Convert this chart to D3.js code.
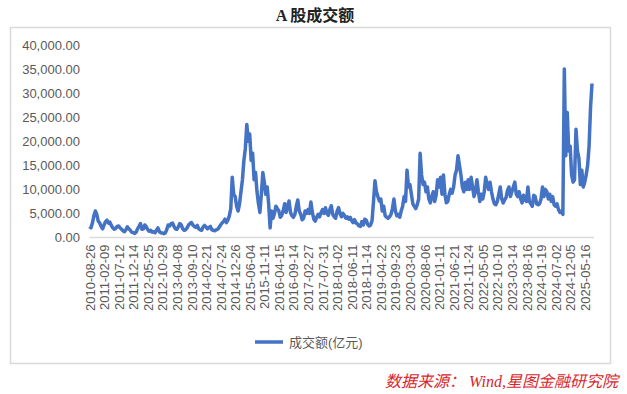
<!DOCTYPE html>
<html>
<head>
<meta charset="utf-8">
<script src="https://cdn.jsdelivr.net/npm/d3@7"></script>
<style>
  html, body { margin: 0; padding: 0; background: #fff; }
  svg { display: block; }
</style>
</head>
<body>
<div id="chart"></div>
<script>
// ---- data ----
const chartTitle = "A 股成交额";
const seriesName = "成交额(亿元)";
const sourceNote = "数据来源：  Wind,星图金融研究院";

const dateLabels = [
  "2010-08-26","2011-02-09","2011-07-12","2011-12-14","2012-05-25","2012-10-29",
  "2013-04-08","2013-09-10","2014-02-21","2014-07-24","2014-12-26","2015-06-04",
  "2015-11-11","2016-04-15","2016-09-14","2017-02-27","2017-07-31","2018-01-02",
  "2018-06-11","2018-11-14","2019-04-22","2019-09-23","2020-03-04","2020-08-06",
  "2021-01-11","2021-06-21","2021-11-24","2022-05-05","2022-10-10","2023-03-14",
  "2023-08-16","2024-01-19","2024-07-02","2024-12-05","2025-05-16"
];
// points between two labels
const pointsPerLabel = 10;

const yTicks = [0, 5000, 10000, 15000, 20000, 25000, 30000, 35000, 40000];

// turnover (亿元), 10 samples per label interval
const turnover = [
  2300, 2000, 3000, 4500, 5500, 4800, 3400, 3000, 2300, 1800,
  2600, 3300, 3600, 3000, 3200, 2500, 2000, 1700, 1900, 2300,
  2400, 2000, 1700, 1400, 1200, 1600, 2200, 1800, 1500, 1100,
  1000, 850, 1100, 1800, 2300, 2900, 1700, 1800, 2600, 2200,
  1600, 1300, 1500, 1100, 1200, 1000, 1500, 2000, 1200, 1000,
  950, 800, 900, 1600, 2600, 2400, 2900, 3000, 2300, 1800,
  1700, 2200, 2900, 2600, 1800, 1500, 1600, 2000, 2600, 2900,
  3100, 2600, 2300, 2100, 2500, 1800, 1600, 1500, 2200, 2500,
  2200, 1800, 2100, 2300, 1600, 1500, 1400, 1600, 1700, 2100,
  2600, 3000, 3300, 3800, 3100, 3600, 4500, 6000, 12500, 9000,
  8500, 6500, 5500, 7000, 9500, 12000, 16000, 18500, 23500, 20000,
  21500, 16000, 17500, 12000, 13500, 9500, 7000, 5200, 9000, 13500,
  11500, 9000, 10500, 7000, 2000, 5500, 4000, 5000, 6500, 6000,
  5500, 4200, 4600, 5600, 7000, 5200, 6500, 7600, 5200, 4500,
  4200, 4800, 6500, 7800, 5500, 4800, 3700, 4000, 5500, 5000,
  5800, 5000, 7400, 5200, 3800, 3400, 4200, 4800, 4300, 5200,
  5800, 5000, 6200, 5000, 4600, 5800, 6600, 4800, 4300, 4000,
  5500, 6200, 5000, 4300, 5000, 4600, 4000, 4300, 3800, 4200,
  3500, 3100, 3700, 3000, 2800, 2400, 2300, 3300, 2600, 3800,
  3600, 2700, 2400, 2600, 3500, 7500, 11800, 9500, 8500, 7600,
  8000, 5500, 6500, 4500, 4200, 4000, 4300, 4800, 6000, 8000,
  5500, 4500, 4800, 4200, 5500, 6500, 8500, 7500, 14000, 10500,
  11000, 9000, 7000, 6500, 6000, 6800, 8000, 17500, 13000, 11000,
  11500, 9500, 10500, 8000, 7200, 8500, 9500, 7500, 8800, 12000,
  10500, 12500, 9000, 13000, 9000, 7200, 7500, 9000, 10000, 9200,
  10500, 13000, 14000, 17000, 15000, 13000, 10500, 9500, 11500, 10000,
  12000, 10000, 12500, 10500, 8500, 9500, 12000, 9500, 7500, 9000,
  8000, 9500, 12500, 11000, 10000, 11500, 9500, 8000, 7000, 6800,
  7500, 9000, 10500, 8000, 7200, 7800, 8300, 9800, 10500, 8500,
  9500, 10500, 11500, 9000, 8500, 9500, 8000, 7200, 8800, 7800,
  7500, 10500, 7500, 7000, 6500, 8800, 8500, 7000, 6800, 7000,
  8000, 10500, 8500, 10000, 9500, 8000, 9000, 7500, 8500, 6800,
  6500, 7000, 5800, 5200, 5500, 4800, 35000, 17000, 26000, 18000,
  19000, 13000, 11500, 12000, 22500, 18000, 16500, 11000, 14000, 10500,
  11500, 13000, 15000, 19000, 27000, 32000
];

// ---- drawing ----
const W = 627, H = 394;
const svg = d3.select("#chart").append("svg")
  .attr("width", W).attr("height", H)
  .attr("viewBox", `0 0 ${W} ${H}`);

svg.append("rect").attr("x", 0).attr("y", 0).attr("width", W).attr("height", H).attr("fill", "#fff");

// chart frame
svg.append("rect")
  .attr("x", 10.5).attr("y", 27.5).attr("width", 600).attr("height", 336)
  .attr("fill", "none").attr("stroke", "#d9d9d9").attr("stroke-width", 1.5);

// title
svg.append("text")
  .attr("x", 315).attr("y", 21)
  .attr("text-anchor", "middle")
  .attr("font-family", "'Liberation Serif', 'Noto Sans CJK SC', serif")
  .attr("font-weight", "bold")
  .attr("font-size", 16)
  .attr("fill", "#222")
  .text(chartTitle);

const x = d3.scaleLinear().domain([0, turnover.length - 1]).range([89.5, 592]);
const y = d3.scaleLinear().domain([0, 40000]).range([237.5, 45]);

// y axis
const yAxis = svg.append("g")
  .attr("transform", "translate(82,0)")
  .call(d3.axisLeft(y).tickValues(yTicks).tickFormat(d3.format(",.2f")).tickSize(0).tickPadding(2));
yAxis.select(".domain").remove();
yAxis.selectAll("text")
  .attr("font-family", "'Liberation Sans', Arial, sans-serif")
  .attr("font-size", 13)
  .attr("fill", "#595959");

// x axis
const labelIdx = dateLabels.map((d, i) => i * pointsPerLabel);
const xAxis = svg.append("g")
  .attr("transform", `translate(0,${y(0)})`)
  .call(d3.axisBottom(x).tickValues(labelIdx)
    .tickFormat((d, i) => dateLabels[i]).tickSize(0));
xAxis.select(".domain")
  .attr("d", `M${x.range()[0]},0H${x.range()[1] + 2}`)
  .attr("stroke", "#d9d9d9").attr("stroke-width", 1.5);
xAxis.selectAll("text")
  .attr("font-family", "'Liberation Sans', Arial, sans-serif")
  .attr("font-size", 13)
  .attr("fill", "#595959")
  .attr("text-anchor", "end")
  .attr("transform", "rotate(-90)")
  .attr("x", -7).attr("y", 0).attr("dy", "0.35em");

// line
const line = d3.line()
  .x((d, i) => x(i))
  .y(d => y(d));
svg.append("path")
  .datum(turnover)
  .attr("d", line)
  .attr("fill", "none")
  .attr("stroke", "#4472C4")
  .attr("stroke-width", 3.5)
  .attr("stroke-linejoin", "round");

// legend
svg.append("line")
  .attr("x1", 255).attr("x2", 283).attr("y1", 342).attr("y2", 342)
  .attr("stroke", "#4472C4").attr("stroke-width", 3.5);
svg.append("text")
  .attr("x", 289).attr("y", 342)
  .attr("dy", "0.35em")
  .attr("font-family", "'Liberation Sans', 'Noto Sans CJK SC', sans-serif")
  .attr("font-size", 13)
  .attr("fill", "#595959")
  .text(seriesName);

// source note
svg.append("text")
  .attr("x", 618).attr("y", 387)
  .attr("text-anchor", "end")
  .attr("font-family", "'Liberation Serif', 'Noto Sans CJK SC', serif")
  .attr("font-style", "italic")
  .attr("font-size", 16)
  .attr("fill", "#d9262b")
  .text(sourceNote);
</script>
</body>
</html>
